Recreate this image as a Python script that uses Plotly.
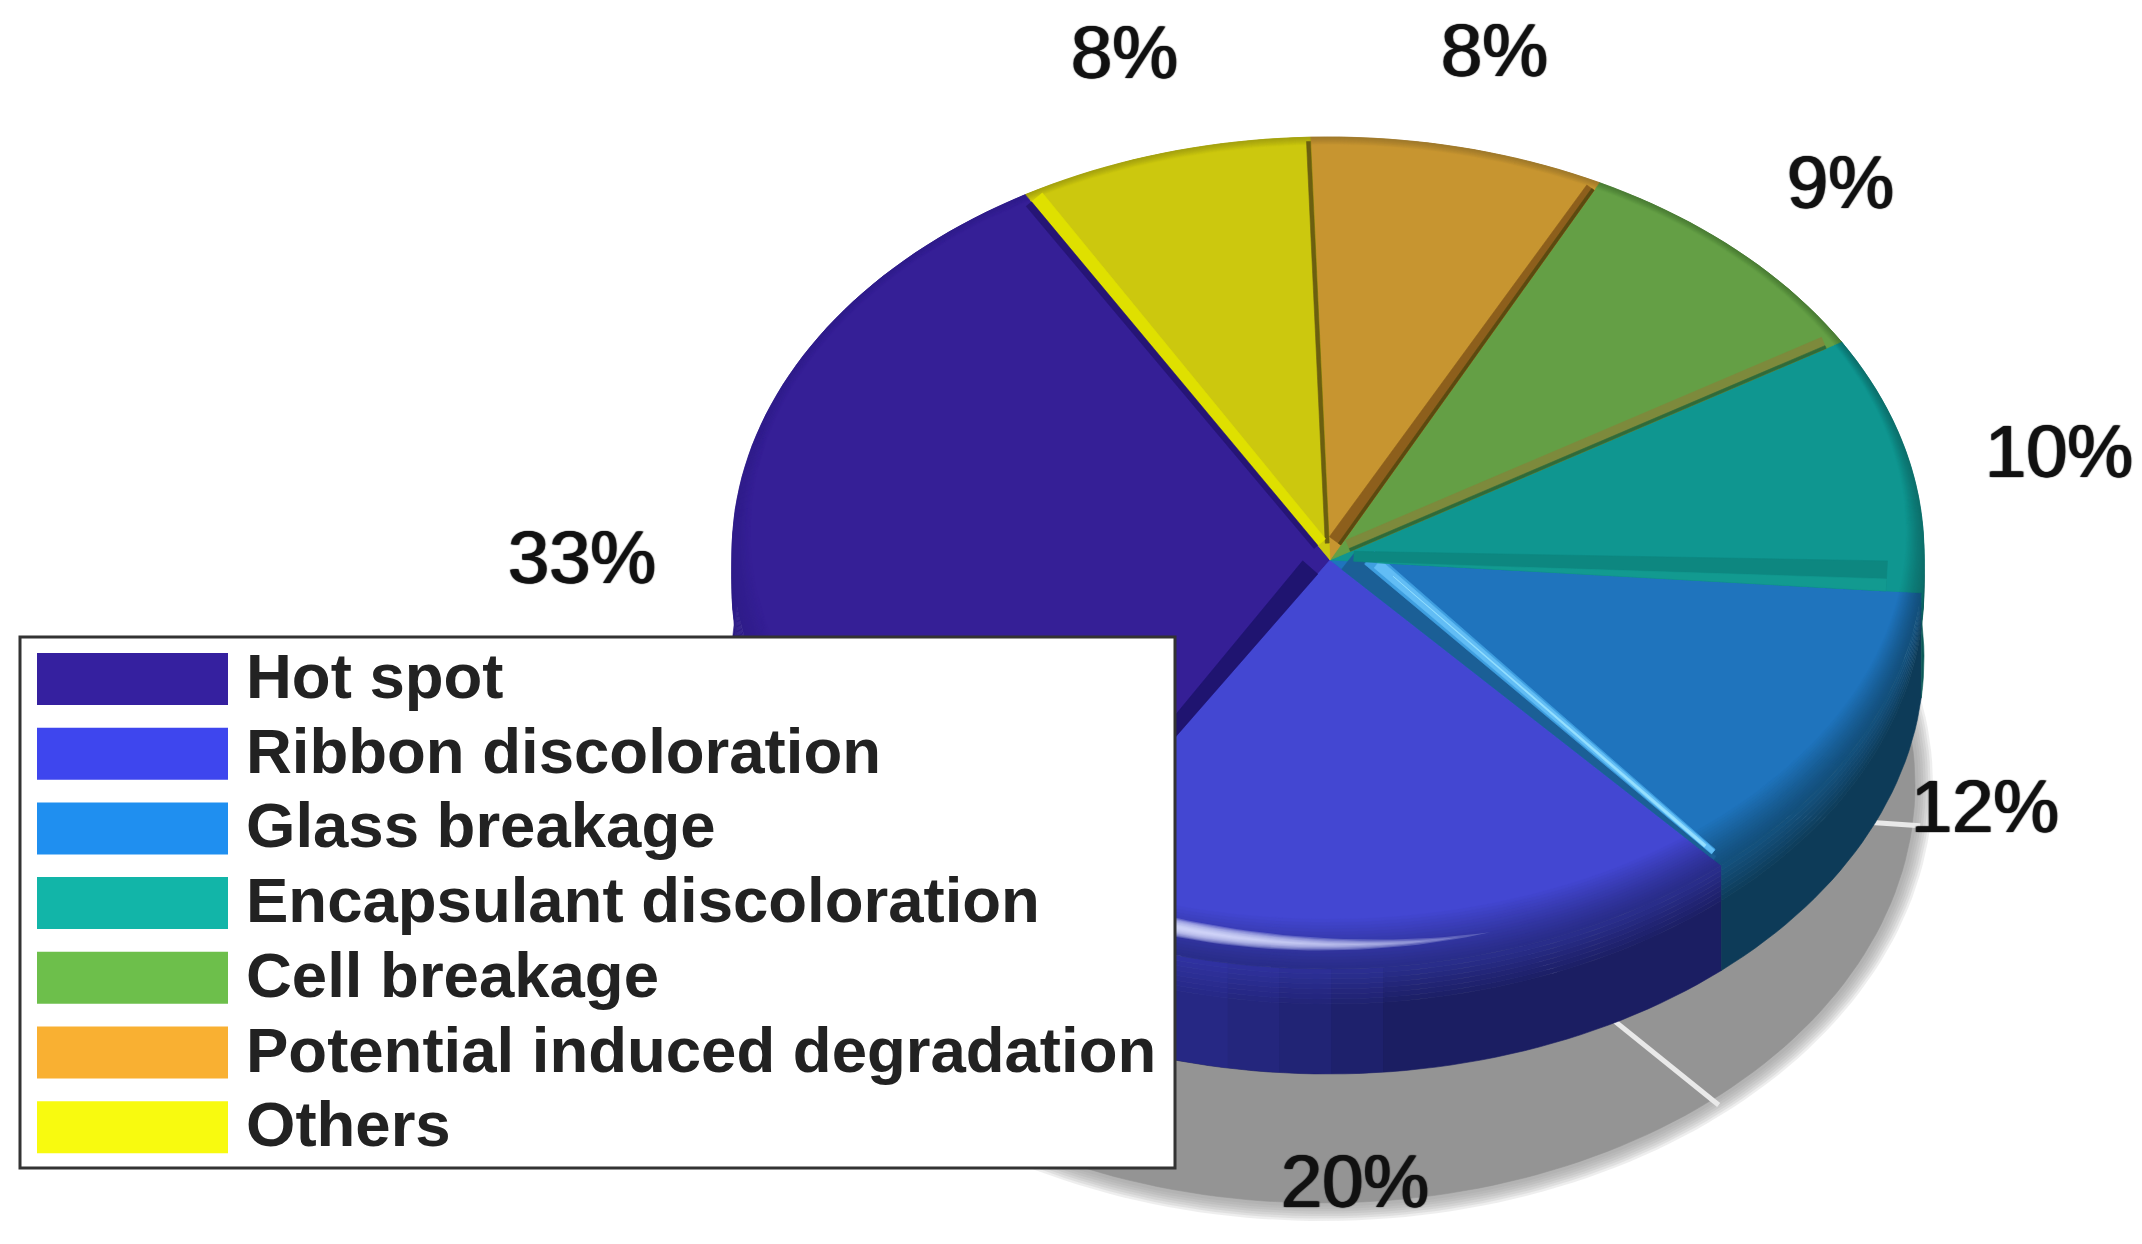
import math
import plotly.graph_objects as go

# ---- data ----
categories = ["Hot spot", "Ribbon discoloration", "Glass breakage", "Encapsulant discoloration",
              "Cell breakage", "Potential induced degradation", "Others"]
values = [33, 20, 12, 10, 9, 8, 8]
# ---- styles ----
legend_colors = ["#35209f", "#3e46ee", "#1f8ff0", "#12b5a8", "#6dbf4b", "#f9b032", "#f8fa0f"]
face_colors = ["#351f96", "#4347d2", "#1f74bd", "#0f9690", "#649f45", "#c79530", "#ccc80e"]
side_colors = ["#2c1b84", "#1b1e62", "#0d3b58", "#0b5a58", "#3d6a2c", "#8a6a28", "#8f8c10"]
label_x = [582, 1355, 1985, 2059, 1840, 1494, 1124]
label_y = [557, 1181, 806, 451, 182, 50, 52]

W, H = 2142, 1244
CX, CY, RX, RY = 1328, 553, 596, 416
TIP = (1330, 560)
DEPTH = 105
BEVEL_BOTTOM, BEVEL_TOP, BEVEL_SIDE = 50, 8, 18
START = 120.5
SCX, SCY, SRX, SRY = 1322, 785, 595, 420

total = sum(values)
edges = [START]
for v in values:
    edges.append(edges[-1] + 360 * v / total)


def hex2rgb(c):
    return tuple(int(c[i:i + 2], 16) for i in (1, 3, 5))


def blend(a, b, t):
    ra, rb = hex2rgb(a), hex2rgb(b)
    return "#%02x%02x%02x" % tuple(round(x + (y - x) * t) for x, y in zip(ra, rb))


def arc(a0, a1, cx=CX, cy=CY, rx=RX, ry=RY, step=1.5):
    n = max(2, int(abs(a1 - a0) / step) + 1)
    pts = []
    for i in range(n + 1):
        a = math.radians(a0 + (a1 - a0) * i / n)
        pts.append((cx + rx * math.cos(a), cy - ry * math.sin(a)))
    return pts


def add_poly(fig, pts, color, name=None, opacity=None):
    xs = [p[0] for p in pts] + [pts[0][0]]
    ys = [p[1] for p in pts] + [pts[0][1]]
    fig.add_trace(go.Scatter(x=xs, y=ys, mode="lines", fill="toself", fillcolor=color,
                             line=dict(width=0.6 if opacity is None else 0, color=color),
                             hoverinfo="skip", showlegend=False, name=name,
                             opacity=opacity))


def ray_angle(edge, cy, rx, ry):
    """Where the straight slice edge (tip to outer rim) meets a smaller rim ellipse."""
    R = arc(edge, edge)[0]
    dx, dy = R[0] - TIP[0], R[1] - TIP[1]
    ox, oy = (TIP[0] - CX) / rx, (TIP[1] - cy) / ry
    ux, uy = dx / rx, dy / ry
    a = ux * ux + uy * uy
    b = 2 * (ox * ux + oy * uy)
    c = ox * ox + oy * oy - 1
    s = (-b + math.sqrt(b * b - 4 * a * c)) / (2 * a)
    ang = math.degrees(math.atan2(-(oy + s * uy), ox + s * ux))
    while ang < edge - 180:
        ang += 360
    while ang > edge + 180:
        ang -= 360
    return ang


fig = go.Figure()

# soft shadow
for i in range(7):
    grow = 16 - i * 2.4
    add_poly(fig, arc(0, 360, SCX, SCY, SRX + grow, SRY + grow), "#949494", opacity=0.16)
add_poly(fig, arc(0, 360, SCX, SCY, SRX - 2, SRY - 2), "#949494")
# the gaps between the shadow's slices
for e in edges[:-1]:
    p = arc(e, e, SCX, SCY, SRX + 6, SRY + 6)[0]
    fig.add_trace(go.Scatter(x=[SCX, p[0]], y=[SCY, p[1]], mode="lines",
                             line=dict(color="#e9e9e9", width=5),
                             hoverinfo="skip", showlegend=False))

# pie wall, as bands from the bottom edge up
wall_steps = [(35, DEPTH, 0.0)] + [(35 - 5 * (j + 1), 35 - 5 * j, 0.36 * (j + 1) / 7) for j in range(7)]
for d0, d1, tone in wall_steps:
    for i, c in enumerate(categories):
        pts = arc(edges[i], edges[i + 1], CX, CY + d0) + arc(edges[i + 1], edges[i], CX, CY + d1)
        add_poly(fig, pts, blend(side_colors[i], face_colors[i], tone), name=c)
# the ribbon wall brightens towards its left end
for j in range(7):
    a1 = edges[1] + 36 - 5 * j
    add_poly(fig, arc(edges[1], a1, CX, CY) + arc(a1, edges[1], CX, CY + DEPTH), "#4347d2", opacity=0.09)

# rounded rim and flat face
STEPS = 16
for k in range(STEPS + 1):
    t = k / STEPS
    ry = RY - t * (BEVEL_BOTTOM + BEVEL_TOP) / 2
    cy = CY + t * (BEVEL_TOP - BEVEL_BOTTOM) / 2
    rx = RX - t * BEVEL_SIDE
    for i, c in enumerate(categories):
        a0 = ray_angle(edges[i], cy, rx, ry)
        a1 = ray_angle(edges[i + 1], cy, rx, ry)
        pts = [TIP] + arc(a0, a1, CX, cy, rx, ry)
        add_poly(fig, pts, blend(side_colors[i], face_colors[i], 0.36 + 0.64 * t ** 1.2), name=c)


def band(edge, side, a0, a1, b0, b1, color, s0=0.04, s1=1.0, opacity=None):
    R = arc(edge, edge)[0]
    Q = arc(edge + side * 10, edge + side * 10)[0]
    dx, dy = R[0] - TIP[0], R[1] - TIP[1]
    L = math.hypot(dx, dy)
    nx, ny = -dy / L, dx / L
    if nx * (Q[0] - R[0]) + ny * (Q[1] - R[1]) < 0:
        nx, ny = -nx, -ny

    def P(s, w):
        return (TIP[0] + s * dx + w * nx, TIP[1] + s * dy + w * ny)

    add_poly(fig, [P(s0, a0), P(s1, a1), P(s1, b1), P(s0, b0)], color, opacity=opacity)


e_rib, e_gla, e_enc, e_cel, e_pid, e_oth = edges[1:7]
# glass: dark and bright strip beside the ribbon slice
band(e_gla, 1, 0, 0, 20, 4, "#1b5f96", s0=0.03, s1=0.98)
band(e_gla, 1, 18, 3, 34, 9, "#3f9fe0", s0=0.06, s1=0.97)
band(e_gla, 1, 21, 3.5, 31, 8, "#62bdf5", s0=0.08, s1=0.97)
band(e_gla, 1, 26, 4, 26, 7, "#96e0ff", s0=0.12, s1=0.95)
# encapsulant above glass
band(e_enc, 1, 0, 0, 10, 30, "#0d8780", s1=0.94)
band(e_enc, 1, 0, 0, 0.5, 12, "#129a90", s0=0.08, s1=0.94)
# cell
band(e_cel, 1, 0, 0, 12, 12, "#7d8a3c", s1=0.97)
band(e_cel, 1, 0, 0, 3, 3, "#2f6b3a", s1=0.97)
# PID
band(e_pid, 1, 0, 0, 14, 9, "#8d5f1c", s1=0.98)
band(e_pid, 1, 0, 0, 3, 3, "#5b4a10", s1=0.98)
# others
band(e_oth, 1, 0, 0, 4, 4, "#6b5f10", s1=0.99)
band(edges[0], -1, 0, 0, 10, 14, "#dfe000", s1=0.98)
# hot spot
band(edges[0], 1, 0, 0, 5, 7, "#261575", s1=0.98)
band(e_rib, -1, 0, 0, 20, 8, "#1f1470", s1=0.98)


# specular crescent on the ribbon rim
def rim_point(a, k):
    t = k / BEVEL_BOTTOM
    return arc(a, a, CX, CY + t * (BEVEL_TOP - BEVEL_BOTTOM) / 2, RX - t * BEVEL_SIDE,
               RY - t * (BEVEL_BOTTOM + BEVEL_TOP) / 2)[0]


A0 = 250
for j in range(9):
    a1 = 286 - j * 3
    hw0 = 10 * (1 - j / 10)
    n = 30
    outer, inner = [], []
    for q in range(n + 1):
        f = q / n
        a = A0 + (a1 - A0) * f
        mid = 29 - 8 * (a - A0) / 36
        hw = hw0 * (1 - f ** 1.6)
        outer.append(rim_point(a, mid - hw))
        inner.append(rim_point(a, mid + hw))
    add_poly(fig, outer + inner[::-1], "#dfe2ff", opacity=0.24)

# ---- legend box ----
shapes = [dict(type="rect", x0=20, x1=1175, y0=637, y1=1168, xref="x", yref="y",
               fillcolor="white", line=dict(color="#333333", width=3))]
annotations = []
for i, c in enumerate(categories):
    yc = 679 + i * 74.7
    shapes.append(dict(type="rect", x0=37, x1=228, y0=yc - 26, y1=yc + 26, xref="x", yref="y",
                       fillcolor=legend_colors[i], line=dict(width=0)))
    annotations.append(dict(x=244, y=yc - 3, xref="x", yref="y", text=c, showarrow=False,
                            xanchor="left", yanchor="middle",
                            font=dict(family="Liberation Sans", size=63.5, color="#222222",
                                      weight="bold")))
for v, x, y in zip(values, label_x, label_y):
    annotations.append(dict(x=x, y=y, xref="x", yref="y", text=f"{v}%", showarrow=False,
                            xanchor="center", yanchor="middle",
                            font=dict(family="Liberation Sans", size=74, color="#111111",
                                      shadow="1px 0 1px #111111, -1px 0 1px #111111")))

fig.update_layout(
    width=W, height=H, margin=dict(l=0, r=0, t=0, b=0),
    paper_bgcolor="white", plot_bgcolor="white", showlegend=False,
    xaxis=dict(range=[0, W], visible=False, fixedrange=True),
    yaxis=dict(range=[H, 0], visible=False, fixedrange=True),
    shapes=shapes, annotations=annotations,
)
fig.write_html("out.html", config={"displayModeBar": False},
               post_script="document.body.style.margin='0';")
